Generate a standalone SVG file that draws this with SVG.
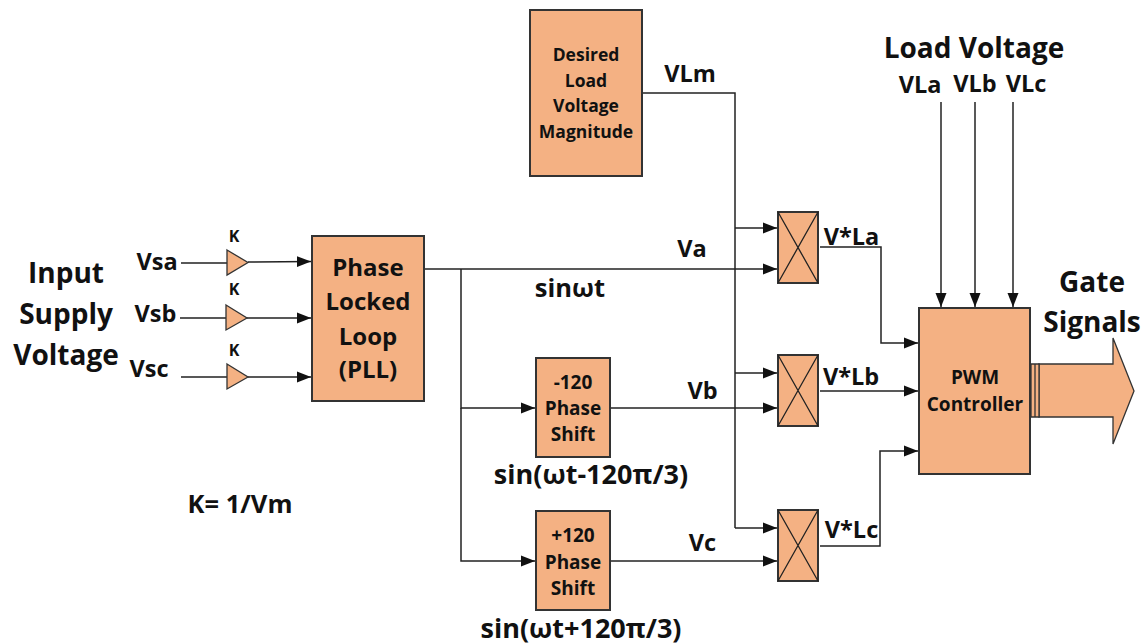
<svg xmlns="http://www.w3.org/2000/svg" width="1144" height="644" viewBox="0 0 1144 644">
<style>
text{font-family:"Open Sans","Noto Sans","Liberation Sans",sans-serif;font-weight:700;fill:#111;text-anchor:middle}
.b{fill:#f4b183;stroke:#333;stroke-width:2}
.x{fill:none;stroke:#222;stroke-width:1.3}
.c{fill:none;stroke:#222;stroke-width:1.5}
.a{marker-end:url(#m)}
.s26{font-size:28px}.s21{font-size:23.500px}.s25{font-size:25.500px}.s18{font-size:17.500px}.s19{font-size:19px}.s16{font-size:16px}.s24{font-size:24px}.s27{font-size:27px}
</style>
<defs><marker id="m" markerUnits="userSpaceOnUse" markerWidth="16" markerHeight="12" refX="14" refY="6" orient="auto"><path d="M0 0.5L14 6L0 11.500Z" fill="#111"/></marker></defs>
<rect width="1144" height="644" fill="#fff"/>
<g id="connectors">
<path class="c a" d="M181 263H227M248 262L311 261.500"/>
<path class="c a" d="M180 318H226M247 318H311"/>
<path class="c a" d="M181 377H227M248 377H311"/>
<path class="c a" d="M424 269H777"/>
<path class="c a" d="M461 269V408H535"/>
<path class="c a" d="M461 408V561H535"/>
<path class="c a" d="M611 408H777"/>
<path class="c a" d="M611 561H777"/>
<path class="c" d="M642 93H735V528"/>
<path class="c a" d="M735 228H777"/>
<path class="c a" d="M735 373H777"/>
<path class="c a" d="M735 528H777"/>
<path class="c a" d="M820 247H881V343H918"/>
<path class="c a" d="M820 391H918"/>
<path class="c a" d="M820 546H880V451H918"/>
<path class="c a" d="M941 102V307"/>
<path class="c a" d="M975 102V307"/>
<path class="c a" d="M1013 102V307"/>
</g>
<g id="gain-a"><path class="b" style="stroke-width:1.300" d="M227 250L248 262.500L227 275Z"/><text class="s16" x="234" y="242">K</text></g>
<g id="gain-b"><path class="b" style="stroke-width:1.300" d="M226 305L247 318L226 330Z"/><text class="s16" x="234" y="295">K</text></g>
<g id="gain-c"><path class="b" style="stroke-width:1.300" d="M227 364L248 377L227 389Z"/><text class="s16" x="234" y="356">K</text></g>
<g id="pll"><rect class="b" x="312" y="236" width="112" height="165"/>
<text class="s24" x="368" y="276">Phase</text><text class="s24" x="368" y="310">Locked</text><text class="s24" x="368" y="345">Loop</text><text class="s24" x="368" y="378">(PLL)</text></g>
<g id="desired"><rect class="b" x="530" y="10" width="112" height="166"/>
<text class="s18" x="586" y="61">Desired</text><text class="s18" x="586" y="87">Load</text><text class="s18" x="586" y="112">Voltage</text><text class="s18" x="586" y="138">Magnitude</text></g>
<g id="shift-minus"><rect class="b" x="536" y="358" width="74" height="99"/>
<text class="s19" x="573" y="389">-120</text><text class="s19" x="573" y="415">Phase</text><text class="s19" x="573" y="441">Shift</text></g>
<g id="shift-plus"><rect class="b" x="536" y="511" width="74" height="99"/>
<text class="s19" x="573" y="542">+120</text><text class="s19" x="573" y="569">Phase</text><text class="s19" x="573" y="595">Shift</text></g>
<g id="mult-a"><rect class="b" x="778" y="212" width="40" height="71"/><path class="x" d="M778 212L818 283M818 212L778 283"/></g>
<g id="mult-b"><rect class="b" x="778" y="355" width="40" height="71"/><path class="x" d="M778 355L818 426M818 355L778 426"/></g>
<g id="mult-c"><rect class="b" x="778" y="510" width="40" height="71"/><path class="x" d="M778 510L818 581M818 510L778 581"/></g>
<g id="pwm"><rect class="b" x="919" y="308" width="111" height="166"/>
<text class="s19" x="975" y="384">PWM</text><text class="s19" x="975" y="411">Controller</text></g>
<g id="output"><path class="b" style="stroke-width:1.300" d="M1039 364H1113V338L1134 391L1113 444V417H1039Z"/>
<path class="b" style="stroke-width:1.300" d="M1031 364H1035V417H1031ZM1035 364H1039V417H1035Z"/></g>
<g id="labels">
<text class="s26" x="66" y="283">Input</text><text class="s26" x="66" y="324">Supply</text><text class="s26" x="66" y="365">Voltage</text>
<text class="s21" x="157" y="270">Vsa</text><text class="s21" x="155.500" y="322">Vsb</text><text class="s21" x="149" y="377">Vsc</text>
<text class="s21" x="690" y="82">VLm</text><text class="s21" x="692" y="257">Va</text><text class="s25" x="570" y="297">sinωt</text>
<text class="s21" x="702.500" y="399">Vb</text><text class="s21" x="702.500" y="551">Vc</text>
<text class="s27" x="591" y="484">sin(ωt-120π/3)</text><text class="s27" x="581" y="638">sin(ωt+120π/3)</text>
<text class="s25" x="240" y="513">K= 1/Vm</text>
<text class="s21" x="851.500" y="245">V*La</text><text class="s21" x="851" y="385">V*Lb</text><text class="s21" x="851.500" y="538">V*Lc</text>
<text class="s26" x="974" y="58">Load Voltage</text>
<text class="s21" x="920" y="93">VLa</text><text class="s21" x="975" y="92">VLb</text><text class="s21" x="1026" y="92">VLc</text>
<text class="s26" x="1092" y="292">Gate</text><text class="s26" x="1092" y="332">Signals</text>
</g>
</svg>
